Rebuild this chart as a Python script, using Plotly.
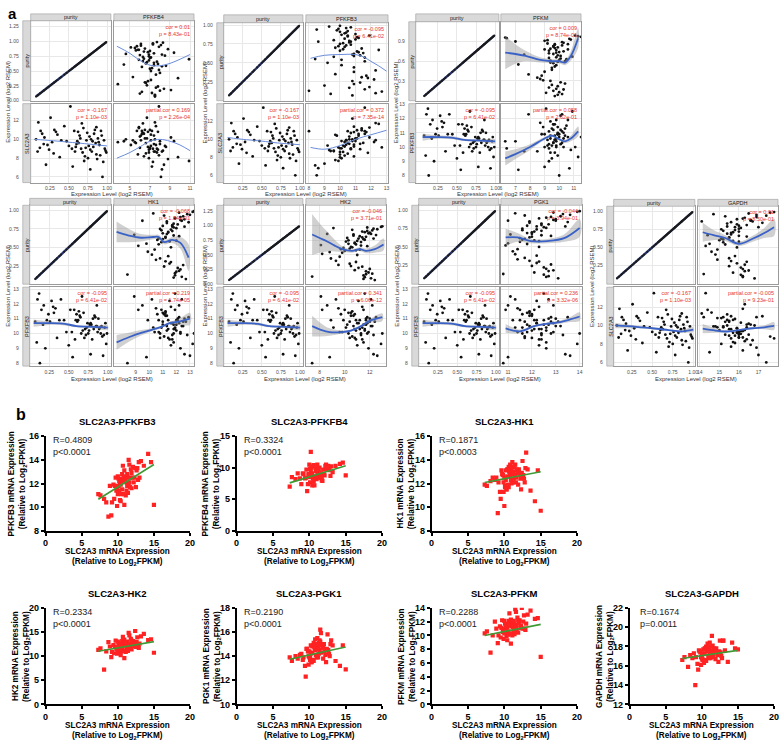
import plotly.graph_objects as go

W, H = 784, 746
def px(x): return x / W
def py(y): return 1 - y / H
FONT = 'Arial, Liberation Sans, sans-serif'

# ---------------- panel a data (TIMER, log2 RSEM) ----------------
purity = [0.82, 0.64, 0.91, 0.15, 0.73, 0.58, 0.88, 0.22, 0.69, 0.95, 0.47, 0.78, 0.10, 0.85, 0.62, 0.30, 0.76, 0.93, 0.55, 0.18,
          0.71, 0.84, 0.40, 0.66, 0.98, 0.26, 0.79, 0.60, 0.12, 0.87, 0.74, 0.52, 0.90, 0.35, 0.68, 0.81, 0.07, 0.57, 0.94, 0.28,
          0.72, 0.86, 0.44, 0.63, 0.20, 0.77, 0.97, 0.33, 0.70, 0.89, 0.13, 0.59, 0.83, 0.24, 0.75, 0.92, 0.50, 0.67, 0.17, 0.80,
          0.96, 0.38, 0.65, 0.09, 0.86, 0.54, 0.78, 0.31, 0.99, 0.61]
slc2a3_a = [9.2, 10.4, 8.3, 10.6, 9.9, 8.7, 10.1, 9.4, 11.2, 7.6, 9.8, 8.9, 11.8, 9.6, 10.8, 8.5, 9.3, 10.4, 7.1, 10.2,
            8.2, 11.0, 9.9, 9.0, 8.8, 12.3, 10.0, 9.5, 9.1, 7.9, 10.7, 13.5, 9.4, 10.5, 8.6, 9.8, 10.0, 10.9, 6.0, 9.7,
            9.1, 8.4, 11.4, 9.6, 7.3, 10.3, 9.0, 10.8, 7.7, 9.7, 10.9, 9.2, 10.6, 8.9, 8.0, 10.9, 9.3, 11.7, 9.5, 8.7,
            9.9, 8.1, 10.1, 8.7, 11.3, 9.0, 6.8, 11.0, 8.6, 9.8]
pfkfb3_a = [10.3, 11.2, 10.0, 11.6, 10.4, 9.6, 11.0, 10.9, 11.4, 9.9, 10.1, 10.7, 12.3, 10.5, 10.9, 11.8, 10.2, 9.8, 8.4, 11.9,
            10.3, 11.1, 12.3, 10.0, 9.3, 10.8, 10.6, 11.3, 12.7, 10.1, 10.7, 11.6, 10.4, 9.7, 10.2, 11.0, 10.8, 11.6, 8.5, 12.2,
            9.9, 10.5, 10.9, 11.5, 9.0, 10.6, 10.7, 11.7, 9.7, 10.3, 8.0, 10.9, 11.2, 11.3, 10.0, 10.5, 9.2, 12.5, 10.6, 9.6,
            10.4, 10.9, 11.1, 9.4, 11.9, 10.1, 8.6, 11.4, 10.0, 10.8]
pfkfb4_a = [6.8, 7.4, 7.9, 6.2, 7.1, 8.2, 6.5, 7.6, 5.9, 7.3, 8.0, 6.9, 7.5, 5.6, 7.8, 6.6, 8.5, 6.1, 7.2, 9.1,
            6.4, 7.0, 5.3, 7.7, 8.3, 6.7, 4.6, 7.4, 6.0, 8.8, 6.3, 7.9, 5.1, 7.1, 6.9, 9.4, 7.5, 6.2, 8.1, 3.8,
            7.0, 5.8, 7.6, 6.6, 8.4, 6.0, 7.3, 6.8, 10.9, 5.5, 7.2, 8.6, 6.4, 7.8, 6.9, 5.7, 7.1, 6.3, 8.0, 7.4,
            6.1, 9.8, 6.7, 7.5, 5.9, 7.0, 8.2, 6.5, 7.7, 4.4]
pfkm_a = [9.6, 10.1, 9.0, 9.6, 9.8, 9.4, 10.3, 9.9, 9.9, 6.4, 9.5, 10.6, 10.2, 9.7, 10.0, 9.4, 9.3, 10.8, 7.2, 9.8,
          9.6, 10.2, 7.9, 9.8, 11.3, 10.4, 9.4, 10.4, 9.1, 9.2, 10.0, 9.7, 7.0, 8.5, 10.1, 9.9, 9.7, 9.6, 10.7, 10.1,
          9.3, 9.7, 9.0, 10.5, 9.3, 9.8, 11.5, 8.7, 7.6, 10.2, 10.0, 9.9, 9.6, 9.5, 10.3, 9.2, 9.5, 10.9, 10.3, 9.7,
          6.3, 8.8, 9.3, 9.9, 10.6, 9.8, 9.0, 8.9, 11.1, 9.4]
hk1_a = [11.8, 11.2, 12.3, 11.9, 10.9, 11.5, 12.6, 12.1, 11.0, 12.8, 10.4, 11.7, 12.4, 11.3, 10.7, 11.6, 12.0, 11.1, 9.8, 12.2,
         11.4, 12.9, 10.2, 11.8, 13.2, 12.5, 11.0, 10.6, 11.9, 12.3, 11.6, 9.2, 11.9, 10.8, 11.3, 12.1, 12.7, 10.9, 13.0, 11.5,
         11.7, 12.4, 9.9, 11.2, 12.3, 11.8, 12.2, 10.5, 11.4, 11.9, 8.4, 12.0, 11.3, 11.1, 10.8, 12.5, 11.6, 8.9, 12.0, 11.7,
         10.3, 11.4, 12.2, 11.8, 9.5, 10.7, 12.6, 11.2, 13.3, 11.0]
hk2_a = [11.2, 10.5, 11.8, 11.5, 10.1, 10.9, 12.0, 11.7, 10.3, 12.3, 9.6, 11.1, 12.1, 10.7, 9.9, 11.4, 11.6, 10.6, 8.8, 12.2,
         10.8, 12.5, 9.3, 11.3, 12.9, 12.0, 10.2, 9.7, 11.6, 11.9, 11.0, 8.2, 11.4, 10.4, 10.9, 11.7, 12.4, 10.0, 12.6, 11.1,
         11.3, 12.1, 8.9, 10.6, 11.9, 11.5, 11.8, 9.5, 10.8, 11.6, 7.4, 11.2, 10.7, 10.8, 10.3, 12.2, 11.0, 8.1, 11.7, 11.4,
         9.1, 10.9, 11.8, 11.5, 8.6, 9.8, 12.3, 10.5, 13.0, 10.4]
pgk1_a = [12.4, 12.0, 12.8, 12.1, 11.6, 12.3, 13.0, 12.5, 11.8, 13.3, 11.4, 12.2, 12.7, 11.9, 11.5, 12.3, 12.6, 11.7, 11.0, 12.9,
          12.1, 13.5, 11.3, 12.4, 13.9, 12.8, 11.8, 11.6, 12.5, 12.9, 12.2, 10.9, 12.6, 11.7, 12.0, 12.7, 13.1, 11.5, 13.6, 12.2,
          12.4, 13.0, 11.2, 11.9, 12.6, 12.5, 12.9, 11.4, 12.0, 12.3, 10.8, 12.1, 11.9, 12.0, 11.6, 13.2, 12.3, 11.1, 12.7, 12.4,
          11.3, 12.2, 12.8, 12.6, 11.0, 11.8, 13.4, 11.9, 14.0, 11.7]
gapdh_a = [15.9, 15.5, 16.3, 15.7, 15.2, 16.0, 16.6, 16.1, 15.4, 16.9, 14.9, 15.8, 16.2, 15.6, 15.1, 16.4, 16.0, 15.3, 14.5, 16.5,
           15.7, 17.2, 14.8, 16.0, 17.6, 16.3, 15.4, 15.0, 16.1, 16.6, 15.8, 14.3, 16.2, 15.5, 15.6, 16.4, 16.8, 15.2, 17.4, 15.9,
           16.0, 16.7, 14.6, 15.5, 16.2, 16.1, 16.5, 14.9, 15.6, 15.9, 14.2, 15.7, 15.4, 15.5, 15.1, 16.9, 15.9, 14.4, 16.3, 16.0,
           14.7, 15.8, 16.4, 16.2, 14.1, 15.3, 17.0, 15.6, 17.8, 15.2]

# loess fits: (x, fitted y, confidence half-width)
fit_b1_tr = ([3.7, 5, 6, 7, 8, 9, 10, 11], [0.92, 0.8, 0.68, 0.6, 0.59, 0.63, 0.7, 0.78], [])
fit_b1_bl = ([0.05, 0.3, 0.5, 0.7, 1.0], [10.0, 9.85, 9.7, 9.55, 9.3], [])
fit_b1_br = ([3.7, 5, 6, 7, 8, 9, 10, 11], [8.0, 8.6, 9.2, 9.8, 10.0, 9.8, 9.4, 8.8], [])
fit_b2_tr = ([8.1, 9, 10, 11, 11.5, 12, 12.5, 13], [0.56, 0.6, 0.61, 0.61, 0.58, 0.52, 0.46, 0.39], [])
fit_b2_bl = ([0.05, 0.3, 0.5, 0.7, 1.0], [10.2, 9.95, 9.8, 9.6, 9.4], [])
fit_b2_br = ([8.1, 9, 10, 11, 12, 13], [9.1, 8.9, 9.3, 10.0, 10.5, 11.0], [])
fit_b3_tr = ([6.3, 7.0, 7.7, 8.7, 9.5, 10.0, 10.4, 10.8, 11.3], [0.73, 0.71, 0.68, 0.62, 0.6, 0.6, 0.58, 0.68, 0.95],
             [0.25, 0.15, 0.08, 0.04, 0.03, 0.03, 0.04, 0.07, 0.15])
fit_pf3_purity = ([0.05, 0.25, 0.45, 0.6, 0.8, 1.0], [10.7, 10.7, 10.65, 10.5, 10.45, 10.4], [0.25, 0.12, 0.1, 0.08, 0.08, 0.15])
fit_b3_br = ([6.3, 7.0, 8.0, 9.0, 9.5, 10.0, 10.4, 10.8, 11.3], [9.2, 9.5, 10.0, 10.6, 10.8, 10.55, 10.4, 10.6, 11.1],
             [0.5, 0.35, 0.2, 0.1, 0.08, 0.08, 0.12, 0.2, 0.35])
fit_b4_tr = ([7.6, 8.5, 9.4, 10.3, 10.7, 11.1, 11.7, 12.3, 12.9], [0.71, 0.66, 0.63, 0.64, 0.64, 0.57, 0.6, 0.56, 0.36],
             [0.14, 0.09, 0.05, 0.03, 0.03, 0.03, 0.04, 0.08, 0.18])
fit_b4_br = ([7.6, 8.5, 9.4, 10.2, 10.9, 11.5, 12.2, 13.0], [9.4, 9.75, 10.05, 10.25, 10.45, 10.7, 10.8, 11.0],
             [0.5, 0.3, 0.18, 0.1, 0.07, 0.08, 0.2, 0.4])
fit_b5_tr = ([7.4, 8.0, 8.6, 9.2, 9.8, 10.6, 11.2, 11.7, 12.4, 13.1], [0.85, 0.79, 0.73, 0.66, 0.6, 0.57, 0.6, 0.57, 0.6, 0.68],
             [0.35, 0.25, 0.17, 0.1, 0.05, 0.03, 0.03, 0.04, 0.06, 0.1])
fit_b5_br = ([7.4, 8.1, 8.8, 9.8, 10.5, 11.2, 12.0, 13.0], [10.5, 10.25, 10.1, 10.1, 10.2, 10.45, 10.85, 11.1],
             [0.7, 0.45, 0.25, 0.1, 0.07, 0.08, 0.12, 0.25])
fit_b6_tr = ([10.9, 11.4, 11.95, 12.65, 13.35, 14.0], [0.63, 0.63, 0.58, 0.58, 0.62, 0.76], [0.12, 0.06, 0.03, 0.03, 0.05, 0.12])
fit_b6_br = ([10.9, 11.5, 12.1, 12.6, 13.1, 13.6, 14.0], [10.35, 10.15, 10.5, 10.65, 10.75, 10.95, 11.15],
             [0.3, 0.12, 0.08, 0.08, 0.1, 0.17, 0.28])
fit_b7_tr = ([14.15, 14.7, 15.3, 16.0, 16.7, 17.3, 17.8], [0.71, 0.67, 0.63, 0.55, 0.62, 0.7, 0.78], [0.13, 0.07, 0.04, 0.03, 0.04, 0.07, 0.12])
fit_b7_bl = ([0.05, 0.3, 0.5, 0.7, 0.85, 1.0], [10.0, 9.85, 9.7, 9.5, 9.35, 9.55], [0.3, 0.15, 0.1, 0.08, 0.1, 0.25])
fit_b7_br = ([14.15, 14.8, 15.3, 16.0, 16.7, 17.3, 17.8], [9.65, 9.45, 9.35, 9.5, 9.7, 9.8, 9.95], [0.5, 0.25, 0.12, 0.08, 0.1, 0.2, 0.4])

# correlation labels (TR, BL, BR)
txt_b1 = ("cor = 0.01<br>p = 8.43e-01", "cor = -0.167<br>p = 1.10e-03", "partial.cor = 0.169<br>p = 2.26e-04")
txt_b2 = ("cor = -0.095<br>p = 6.41e-02", "cor = -0.167<br>p = 1.10e-03", "partial.cor = 0.372<br>p = 7.35e-14")
txt_b3 = ("cor = 0.009<br>p = 8.74e-01", "cor = -0.095<br>p = 6.41e-02", "partial.cor = 0.058<br>p = 2.62e-01")
txt_b4 = ("cor = -0.068<br>p = 1.84e-01", "cor = -0.095<br>p = 6.41e-02", "partial.cor = 0.219<br>p = 1.74e-05")
txt_b5 = ("cor = -0.046<br>p = 3.71e-01", "cor = -0.095<br>p = 6.41e-02", "partial.cor = 0.341<br>p = 6.06e-12")
txt_b6 = ("cor = -0.044<br>p = 3.94e-01", "cor = -0.095<br>p = 6.41e-02", "partial.cor = 0.236<br>p = 3.32e-06")
txt_b7 = ("cor = 0.01<br>p = 8.50e-01", "cor = -0.167<br>p = 1.10e-03", "partial.cor = -0.005<br>p = 9.23e-01")

# ---------------- panel b data (log2 FPKM) ----------------
slc2a3_b = [10.8, 11.2, 9.6, 12.1, 10.3, 11.7, 10.9, 8.4, 11.5, 10.1, 12.6, 9.9, 11.0, 10.6, 13.2, 11.3, 9.2, 10.4, 11.9, 10.7,
            12.3, 8.9, 11.1, 10.2, 11.6, 9.8, 14.2, 10.5, 11.4, 12.8, 7.6, 10.9, 11.8, 9.4, 10.0, 12.0, 11.3, 13.6, 10.6, 9.1,
            11.2, 12.4, 10.3, 11.7, 8.1, 10.8, 15.0, 11.0, 9.7, 12.2, 10.4, 11.5, 13.0, 10.1, 11.9, 9.5, 10.7, 12.7, 11.4, 8.7,
            10.5, 11.1, 12.9, 9.9, 14.6, 10.2, 11.6, 10.0, 12.5, 7.3]
pfkfb3_b = [12.5, 11.4, 11.8, 13.4, 10.6, 12.5, 13.1, 10.4, 11.9, 12.4, 13.1, 10.1, 12.2, 11.5, 13.9, 12.8, 10.4, 11.9, 11.6, 13.5,
            12.5, 11.8, 11.0, 12.2, 13.6, 11.4, 14.5, 11.1, 12.5, 12.3, 11.0, 10.2, 13.2, 11.9, 11.1, 12.5, 11.8, 13.5, 12.8, 9.3,
            12.1, 13.3, 12.1, 11.7, 10.7, 11.1, 10.2, 12.6, 12.5, 12.1, 10.5, 14.0, 12.5, 11.8, 12.9, 10.7, 12.2, 13.3, 11.2, 9.2,
            12.4, 12.5, 13.8, 11.6, 13.8, 11.4, 12.1, 12.6, 11.7, 11.1]
pfkfb4_b = [8.5, 9.9, 9.7, 8.8, 9.0, 8.0, 9.5, 9.1, 9.0, 7.7, 10.3, 9.0, 8.2, 10.4, 9.3, 9.2, 9.0, 7.2, 9.7, 8.6,
            10.5, 7.4, 9.3, 9.6, 9.1, 7.4, 10.6, 10.2, 8.5, 9.6, 8.5, 9.9, 7.9, 8.3, 10.5, 8.9, 9.4, 10.3, 7.8, 9.1,
            8.5, 9.7, 10.0, 8.4, 8.2, 8.6, 8.8, 9.6, 6.3, 10.3, 9.1, 8.4, 10.2, 9.8, 9.0, 8.4, 7.2, 10.0, 10.0, 8.3,
            8.3, 10.5, 8.7, 8.9, 10.8, 12.5, 8.7, 8.5, 10.2, 7.0]
hk1_b = [12.7, 12.1, 13.1, 12.7, 11.5, 13.1, 12.3, 12.5, 13.6, 11.8, 12.7, 12.1, 13.2, 11.7, 13.2, 13.4, 12.1, 12.6, 11.9, 13.0,
         11.5, 12.5, 13.8, 12.3, 12.1, 12.7, 10.5, 13.2, 12.7, 12.1, 11.8, 13.3, 13.0, 11.3, 12.5, 13.2, 12.4, 11.4, 13.4, 9.5,
         13.0, 12.9, 11.5, 13.2, 12.2, 13.6, 9.7, 12.0, 12.8, 12.4, 13.2, 12.7, 14.6, 11.7, 12.9, 10.7, 13.0, 12.4, 13.5, 12.3,
         11.9, 12.8, 13.3, 11.3, 13.1, 13.1, 12.5, 10.1, 13.9, 11.9]
hk2_b = [12.6, 11.3, 11.9, 13.1, 10.8, 12.4, 13.4, 11.0, 12.0, 12.7, 12.9, 10.5, 12.2, 11.6, 14.1, 13.0, 10.9, 12.1, 11.4, 14.0,
         12.3, 12.0, 10.9, 12.4, 14.3, 11.5, 13.3, 11.0, 12.6, 12.0, 11.6, 9.6, 13.6, 12.3, 11.2, 12.8, 11.7, 14.6, 13.1, 9.8,
         12.2, 15.2, 12.0, 11.5, 7.2, 11.1, 10.7, 12.8, 13.2, 12.1, 10.2, 14.8, 12.6, 11.8, 13.2, 10.6, 12.3, 13.9, 11.1, 12.9,
         12.5, 12.7, 11.7, 11.7, 13.5, 11.4, 12.1, 13.0, 11.9, 11.3]
pgk1_b = [14.5, 13.9, 14.6, 14.4, 13.5, 14.9, 14.1, 13.8, 15.2, 13.9, 14.5, 14.0, 14.8, 13.6, 14.9, 15.1, 13.9, 14.3, 13.8, 14.7,
          13.5, 14.2, 15.5, 14.2, 15.9, 14.4, 13.2, 14.9, 14.5, 14.0, 13.6, 15.0, 14.7, 13.2, 14.4, 15.0, 14.2, 13.6, 15.1, 13.7,
          14.8, 14.6, 13.5, 15.0, 14.0, 15.4, 12.9, 13.9, 14.6, 14.1, 14.8, 16.2, 15.3, 13.7, 14.7, 12.3, 14.8, 14.2, 15.3, 14.1,
          13.7, 14.6, 15.0, 13.3, 14.9, 14.9, 14.3, 13.9, 15.8, 13.9]
pfkm_b = [11.6, 10.3, 11.1, 12.2, 9.9, 11.5, 12.3, 10.0, 11.0, 11.7, 12.0, 9.5, 11.3, 10.6, 13.0, 12.1, 10.0, 11.2, 10.4, 13.2,
          11.4, 11.0, 10.0, 11.5, 13.4, 10.5, 12.4, 10.1, 11.7, 11.0, 10.6, 8.8, 12.6, 11.3, 10.3, 11.8, 10.8, 13.6, 12.1, 8.9,
          11.2, 14.0, 11.0, 10.6, 7.5, 10.2, 6.9, 11.8, 12.2, 11.1, 9.3, 13.8, 11.7, 10.9, 12.2, 9.7, 11.4, 12.9, 10.2, 12.0,
          11.6, 11.8, 10.8, 10.8, 12.5, 10.5, 11.2, 12.1, 11.0, 10.3]
gapdh_b = [17.5, 16.8, 17.6, 17.4, 16.3, 17.8, 17.0, 17.1, 18.1, 16.7, 17.4, 16.9, 17.7, 16.5, 17.6, 18.0, 16.9, 17.3, 16.7, 17.7,
           16.4, 17.3, 18.4, 17.2, 16.9, 17.4, 18.4, 17.8, 17.3, 16.8, 16.9, 17.9, 17.6, 16.2, 17.3, 17.8, 17.1, 16.4, 18.0, 14.0,
           17.6, 17.5, 16.4, 17.7, 15.9, 18.3, 17.7, 16.8, 17.5, 17.1, 17.8, 17.4, 18.6, 16.6, 17.5, 15.6, 17.6, 17.0, 19.1, 16.8,
           16.6, 17.4, 18.6, 16.1, 17.8, 17.7, 17.2, 16.8, 18.6, 16.6]

b_genes = ['PFKFB3', 'PFKFB4', 'HK1', 'HK2', 'PGK1', 'PFKM', 'GAPDH']
b_values = [pfkfb3_b, pfkfb4_b, hk1_b, hk2_b, pgk1_b, pfkm_b, gapdh_b]
b_yrange = [[8, 16], [0, 15], [8, 16], [0, 20], [10, 18], [0, 14], [12, 22]]
b_yticks = [[8, 10, 12, 14, 16], [0, 5, 10, 15], [8, 10, 12, 14, 16], [0, 5, 10, 15, 20],
            [10, 12, 14, 16, 18], [0, 2, 4, 6, 8, 10, 12, 14], [12, 14, 16, 18, 20, 22]]
b_R = ['R=0.4809', 'R=0.3324', 'R=0.1871', 'R=0.2334', 'R=0.2190', 'R=0.2288', 'R=0.1674']
b_p = ['p&lt;0.0001', 'p&lt;0.0001', 'p&lt;0.0003', 'p&lt;0.0001', 'p&lt;0.0001', 'p&lt;0.0001', 'p=0.0011']
fit_x_b = [7.3, 15.0]
fit_y_b = [[10.67, 13.6], [7.6, 10.3], [12.08, 13.0], [11.0, 13.0], [13.75, 14.75], [10.0, 11.6], [16.75, 17.6]]
x_ticks_b = [0, 5, 10, 15, 20]

# ---------------- figure ----------------
fig = go.Figure()
annotations = []
shapes = []
_n = [0]

def add_axes(xb, yb, xcfg, ycfg):
    _n[0] += 1
    s = '' if _n[0] == 1 else str(_n[0])
    fig.update_layout({'xaxis' + s: dict(domain=[px(xb[0]), px(xb[1])], anchor='y' + s, **xcfg),
                       'yaxis' + s: dict(domain=[py(yb[1]), py(yb[0])], anchor='x' + s, **ycfg)})
    return 'x' + s, 'y' + s

def ann(text, x, y, size, color='black', xanchor='center', yanchor='middle', angle=0, align='center'):
    annotations.append(dict(text=text, x=px(x), y=py(y), xref='paper', yref='paper', showarrow=False,
                            font=dict(size=size, color=color, family=FONT), xanchor=xanchor, yanchor=yanchor,
                            textangle=angle, align=align, borderpad=0))

def rect(x0, x1, y0, y1, fill, line):
    shapes.append(dict(type='rect', xref='paper', yref='paper', x0=px(x0), x1=px(x1), y0=py(y1), y1=py(y0),
                       fillcolor=fill, line=dict(color=line, width=0.7)))

def a_axis(rng, ticks, fmt, show, standoff=1):
    return dict(range=rng, tickvals=ticks, tickformat=fmt, showticklabels=show, ticks='',
                showgrid=True, gridcolor='#e8e8e8', gridwidth=0.6, zeroline=False,
                showline=True, mirror=True, linecolor='#9a9a9a', linewidth=0.8,
                tickfont=dict(size=5, color='#4d4d4d', family=FONT), ticklabelstandoff=standoff, fixedrange=True)

def draw_fit(fit, xa, ya, color, width):
    fx, fy, hw = fit
    if hw:
        up = [y + h for y, h in zip(fy, hw)]
        lo = [y - h for y, h in zip(fy, hw)]
        fig.add_trace(go.Scatter(x=fx + fx[::-1], y=up + lo[::-1], mode='lines', fill='toself',
                                 fillcolor='rgba(150,150,150,0.45)', line=dict(width=0, shape='spline'),
                                 xaxis=xa, yaxis=ya, hoverinfo='skip'))
    fig.add_trace(go.Scatter(x=fx, y=fy, mode='lines', line=dict(color=color, width=width, shape='spline'),
                             xaxis=xa, yaxis=ya, hoverinfo='skip'))

def pts(x, y, xa, ya):
    n = min(len(x), len(y))
    fig.add_trace(go.Scatter(x=x[:n], y=y[:n], mode='markers', marker=dict(size=2.8, color='#111111'),
                             xaxis=xa, yaxis=ya, hoverinfo='skip'))

PUR_TICKS = [0.25, 0.5, 0.75, 1.0]
BLOCKS = [
    dict(gene='PFKFB4', gx=pfkfb4_a, low='SLC2A3', ly=slc2a3_a, cols=((28, 109), (112, 193)), rows=((16, 97), (100, 180)),
         sl=(20, 28), st=(9, 16), xrL=[0.0, 1.05], xrR=[3.4, 11.4], xtR=[5, 7, 9, 11],
         yrT=[0, 1.35], ytT=[0, 0.25, 0.5, 0.75, 1.0, 1.25], fT='.2f', yrB=[5.4, 13.8], ytB=[6, 8, 10, 12],
         fits=(fit_b1_tr, fit_b1_bl, fit_b1_br), txt=txt_b1, lc='#6a8cdb', lw=1.0, ytx=5, xty=192),
    dict(gene='PFKFB3', gx=pfkfb3_a, low='SLC2A3', ly=slc2a3_a, cols=((223, 303), (306, 389)), rows=((18, 97), (100, 180)),
         sl=(216, 223), st=(10, 18), xrL=[0.0, 1.04], xrR=[7.8, 13.1], xtR=[8, 9, 10, 11, 12, 13],
         yrT=[0, 1.03], ytT=PUR_TICKS, fT='.2f', yrB=[5.2, 13.95], ytB=[6, 8, 10, 12],
         fits=(fit_b2_tr, fit_b2_bl, fit_b2_br), txt=txt_b2, lc='#6a8cdb', lw=1.0, ytx=204, xty=192),
    dict(gene='PFKM', gx=pfkm_a, low='PFKFB3', ly=pfkfb3_a, cols=((417, 501), (503, 584)), rows=((17, 97), (100, 180)),
         sl=(410, 417), st=(9, 17), xrL=[-0.04, 1.05], xrR=[6.0, 11.5], xtR=[6, 7, 8, 9, 10, 11],
         yrT=[0, 1.2], ytT=[0.3, 0.6, 0.9], fT='.1f', yrB=[7.5, 13.05], ytB=[8, 9, 10, 11, 12, 13],
         fits=(fit_b3_tr, fit_pf3_purity, fit_b3_br), txt=txt_b3, lc='#3a62c6', lw=1.8, ytx=397, xty=192),
    dict(gene='HK1', gx=hk1_a, low='PFKFB3', ly=pfkfb3_a, cols=((27, 109), (112, 193)), rows=((203, 283), (286, 366)),
         sl=(20, 27), st=(196, 203), xrL=[0.0, 1.04], xrR=[7.4, 13.3], xtR=[9, 10, 11, 12, 13],
         yrT=[0, 1.07], ytT=PUR_TICKS, fT='.2f', yrB=[7.8, 13.13], ytB=[8, 9, 10, 11, 12, 13],
         fits=(fit_b4_tr, fit_pf3_purity, fit_b4_br), txt=txt_b4, lc='#3a62c6', lw=1.8, ytx=5, xty=379),
    dict(gene='HK2', gx=hk2_a, low='PFKFB3', ly=pfkfb3_a, cols=((223, 303), (306, 387)), rows=((203, 283), (286, 366)),
         sl=(216, 223), st=(196, 203), xrL=[0.0, 1.04], xrR=[6.9, 13.3], xtR=[8, 10, 12],
         yrT=[0, 1.35], ytT=[0, 0.25, 0.5, 0.75, 1.0, 1.25], fT='.2f', yrB=[7.8, 13.13], ytB=[8, 9, 10, 11, 12, 13],
         fits=(fit_b5_tr, fit_pf3_purity, fit_b5_br), txt=txt_b5, lc='#3a62c6', lw=1.8, ytx=204, xty=379),
    dict(gene='PGK1', gx=pgk1_a, low='PFKFB3', ly=pfkfb3_a, cols=((420, 501), (503, 585)), rows=((203, 283), (286, 366)),
         sl=(413, 420), st=(196, 203), xrL=[0.0, 1.04], xrR=[10.7, 14.1], xtR=[11, 12, 13, 14],
         yrT=[-0.01, 1.07], ytT=PUR_TICKS, fT='.2f', yrB=[7.8, 13.13], ytB=[8, 9, 10, 11, 12, 13],
         fits=(fit_b6_tr, fit_pf3_purity, fit_b6_br), txt=txt_b6, lc='#3a62c6', lw=1.8, ytx=398, xty=379),
    dict(gene='GAPDH', gx=gapdh_a, low='SLC2A3', ly=slc2a3_a, cols=((617, 699), (702, 783)), rows=((204, 283), (286, 366)),
         sl=(610, 617), st=(197, 204), xrL=[0.03, 1.02], xrR=[13.9, 18.0], xtR=[14, 15, 16, 17],
         yrT=[-0.01, 1.07], ytT=PUR_TICKS, fT='.2f', yrB=[5.6, 14.15], ytB=[6, 8, 10, 12],
         fits=(fit_b7_tr, fit_b7_bl, fit_b7_br), txt=txt_b7, lc='#3a62c6', lw=1.8, ytx=595, xty=379),
]

for b in BLOCKS:
    cL, cR = b['cols']
    rT, rB = b['rows']
    sw = b['sl'][1] - b['sl'][0] + 2
    xa, ya = add_axes(cL, rT, a_axis(b['xrL'], PUR_TICKS, '.2f', False), a_axis(b['yrT'], b['ytT'], b['fT'], True, sw))
    sp = sorted(purity)
    fig.add_trace(go.Scatter(x=sp, y=sp, mode='lines+markers', line=dict(color='#26346e', width=2.4),
                             marker=dict(size=2.2, color='#1a1a1a'), xaxis=xa, yaxis=ya, hoverinfo='skip'))
    xa, ya = add_axes(cR, rT, a_axis(b['xrR'], b['xtR'], '', False), a_axis(b['yrT'], b['ytT'], b['fT'], False))
    pts(b['gx'], purity, xa, ya)
    draw_fit(b['fits'][0], xa, ya, b['lc'], b['lw'])
    xa, ya = add_axes(cL, rB, a_axis(b['xrL'], PUR_TICKS, '.2f', True), a_axis(b['yrB'], b['ytB'], '', True, sw))
    pts(purity, b['ly'], xa, ya)
    draw_fit(b['fits'][1], xa, ya, b['lc'], b['lw'])
    xa, ya = add_axes(cR, rB, a_axis(b['xrR'], b['xtR'], '', True), a_axis(b['yrB'], b['ytB'], '', False))
    pts(b['gx'], b['ly'], xa, ya)
    draw_fit(b['fits'][2], xa, ya, b['lc'], b['lw'])
    for c, lab in ((cL, 'purity'), (cR, b['gene'])):
        rect(c[0], c[1], b['st'][0], b['st'][1], '#d9d9d9', '#a6a6a6')
        ann(lab, (c[0] + c[1]) / 2, (b['st'][0] + b['st'][1]) / 2, 5.5, '#1a1a1a')
    for r, lab in ((rT, 'purity'), (rB, b['low'])):
        rect(b['sl'][0], b['sl'][1], r[0], r[1], '#d9d9d9', '#a6a6a6')
        ann(lab, (b['sl'][0] + b['sl'][1]) / 2, (r[0] + r[1]) / 2, 5.5, '#1a1a1a', angle=-90)
    for (c, r), t in zip(((cR, rT), (cL, rB), (cR, rB)), b['txt']):
        ann(t, c[1] - 3, r[0] + 2, 5.5, '#e8352e', xanchor='right', yanchor='top', align='right')
    ann('Expression Level (log2 RSEM)', (cL[0] + cR[1]) / 2, b['xty'], 6, '#333333')
    ann('Expression Level (log2 RSEM)', b['ytx'], (rT[0] + rB[1]) / 2, 6, '#333333', angle=-90)

# ---------------- panel b ----------------
def b_axis(rng, ticks):
    return dict(range=rng, tickvals=ticks, showgrid=False, zeroline=False, showline=True, mirror=False,
                linecolor='black', linewidth=1.6, ticks='outside', ticklen=3, tickwidth=1.5, tickcolor='black',
                tickfont=dict(size=9, color='black', family=FONT, weight='bold'), fixedrange=True)

B_BOXES = [((43, 189), (437, 533)), ((236, 383), (437, 533)), ((433, 580), (437, 533)),
           ((43, 189), (611, 709)), ((236, 383), (611, 709)), ((433, 580), (611, 709)), ((633, 779), (611, 709))]
for i, ((x0, x1), (y0, y1)) in enumerate(B_BOXES):
    xa, ya = add_axes((x0, x1), (y0, y1), b_axis([0, 20], x_ticks_b), b_axis(b_yrange[i], b_yticks[i]))
    n = min(len(slc2a3_b), len(b_values[i]))
    fig.add_trace(go.Scatter(x=slc2a3_b[:n], y=b_values[i][:n], mode='markers',
                             marker=dict(size=4.2, color='#ff2222', symbol='square'), xaxis=xa, yaxis=ya, hoverinfo='skip'))
    fig.add_trace(go.Scatter(x=fit_x_b, y=fit_y_b[i], mode='lines', line=dict(color='#3f9a35', width=1.6),
                             xaxis=xa, yaxis=ya, hoverinfo='skip'))
    ann('<b>SLC2A3-%s</b>' % b_genes[i], (x0 + x1) / 2, y0 - 15, 9.5)
    dx = 10 if i == 6 else 6
    ann(b_R[i], x0 + dx, y0 + 4, 9, '#222222', xanchor='left')
    ann(b_p[i], x0 + dx, y0 + 16, 9, '#222222', xanchor='left')
    ann('<b>SLC2A3 mRNA Expression</b>', (x0 + x1) / 2, y1 + 21, 8.2)
    ann('<b>(Relative to Log<sub>2</sub>FPKM)</b>', (x0 + x1) / 2, y1 + 32, 8.2)
    off = 34 if i == 0 else 31
    ann('<b>%s mRNA Expression</b>' % b_genes[i], x0 - off, (y0 + y1) / 2, 8.2, angle=-90)
    ann('<b>(Relative to Log<sub>2</sub>FPKM)</b>', x0 - off + 12, (y0 + y1) / 2, 8.2, angle=-90)

ann('<b>a</b>', 4, 9, 15, xanchor='left')
ann('<b>b</b>', 12, 415, 16, xanchor='left')

fig.update_layout(width=W, height=H, margin=dict(l=0, r=0, t=0, b=0), showlegend=False,
                  paper_bgcolor='white', plot_bgcolor='white', annotations=annotations, shapes=shapes,
                  font=dict(family=FONT))
fig.write_html('out.html', config={'displayModeBar': False},
               post_script="document.body.style.margin='0px';document.body.style.overflow='hidden';")
